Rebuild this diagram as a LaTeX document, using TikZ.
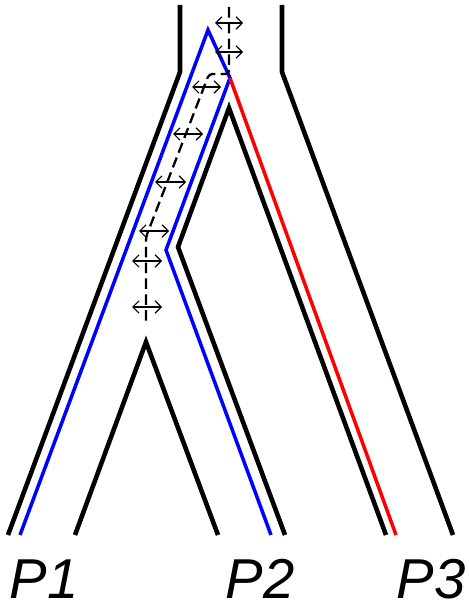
\documentclass[tikz,border=0pt]{standalone}
\usepackage{fontspec}
\setmainfont{Liberation Sans}
\usetikzlibrary{arrows.meta}

\begin{document}
\begin{tikzpicture}[
    x=0.02cm, y=-0.02cm,
    tree/.style={line width=2.6pt, line join=miter},
    gene/.style={line width=2pt},
    flow/.style={line width=1.3pt, dash pattern=on 6pt off 3pt, rounded corners=2pt},
    mig/.style={{Straight Barb[length=3.5pt]}-{Straight Barb[length=3.5pt]}, line width=0.7pt},
    lbl/.style={font=\fontsize{32}{36}\selectfont\itshape, anchor=base, inner sep=0pt, text depth=0pt}
]
\useasboundingbox (0,0) rectangle (469,604);

% species tree
\coordinate (rootL) at (180,5);
\coordinate (rootR) at (282,5);
\coordinate (splitL) at (180,72);
\coordinate (splitR) at (282,72);
\coordinate (tipP1) at (8,535);
\coordinate (tipP3) at (453,535);
\draw[tree] (rootL) -- (splitL) -- (tipP1);
\draw[tree] (rootR) -- (splitR) -- (tipP3);

\coordinate (apex12) at (146,342);
\draw[tree] (75,535) -- (apex12) -- (218,535);

\coordinate (apex3) at (229,108);
\coordinate (kink) at (178,247);
\draw[tree] (285,535) -- (kink) -- (apex3) -- (386,535);

% gene tree
\coordinate (gtop) at (208,30);
\coordinate (coal) at (230,78);
\coordinate (gkink) at (166,250);
\draw[gene, blue] (20,535) -- (gtop) -- (coal) -- (gkink) -- (271,535);
\draw[gene, red] (coal) -- (396,535);

% gene flow path
\coordinate (f0) at (229,7);
\coordinate (f1) at (229,74);
\coordinate (f2) at (209,74);
\coordinate (f3) at (146,237);
\coordinate (f4) at (146,325);
\draw[flow] (f0) -- (f1) -- (f2) -- (f3) -- (f4);

\foreach \i/\xa/\xb/\yy in {1/215/243/23, 2/215/243/52, 3/192/221/87, 4/173/203/134,
                            5/155/186/182, 6/139/169/231, 7/132/162/261, 8/132/162/307} {
  \coordinate (m\i a) at (\xa,\yy);
  \coordinate (m\i b) at (\xb,\yy);
  \draw[mig] (m\i a) -- (m\i b);
}

\node[lbl] (p1) at (44,598) {P1};
\node[lbl] (p2) at (260,598) {P2};
\node[lbl] (p3) at (431,598) {P3};
\end{tikzpicture}
\end{document}
